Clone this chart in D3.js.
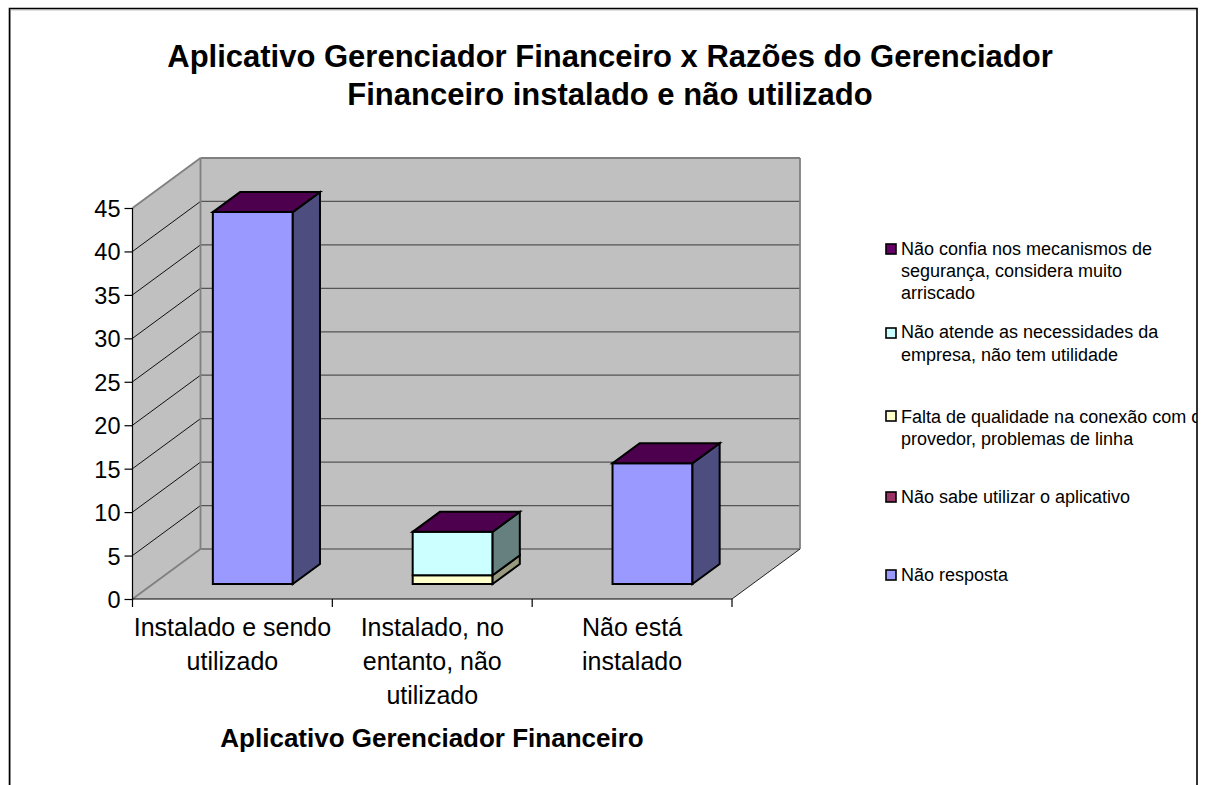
<!DOCTYPE html>
<html><head><meta charset="utf-8">
<script src="https://d3js.org/d3.v7.min.js"></script>
<style>html,body{margin:0;padding:0;background:#fff}svg{display:block}text{font-family:"Liberation Sans",Arial,sans-serif;fill:#000}</style>
</head><body><svg id="c" width="1205" height="785"></svg>
<script>
const categories = [["Instalado e sendo","utilizado"],["Instalado, no","entanto, não","utilizado"],["Não está","instalado"]];
const seriesNames = [["Não resposta"],["Não sabe utilizar o aplicativo"],["Falta de qualidade na conexão com o","provedor, problemas de linha"],["Não atende as necessidades da","empresa, não tem utilidade"],["Não confia nos mecanismos de","segurança, considera muito","arriscado"]];
const naoResposta = [42.8,0,13.9];
const naoSabe = [0,0,0];
const faltaQualidade = [0,1,0];
const naoAtende = [0,5,0];
const naoConfia = [0,0,0];
const yTicks = [0,5,10,15,20,25,30,35,40,45];
const front = ["#9999ff","#993366","#ffffcc","#ccffff","#660066"];
const side = ["#4d4d80","#4d1a33","#999980","#668080","#330033"];
const topc = ["#7373bf","#732650","#bfbf99","#99bfbf","#4d004d"];
const legendTextY = [575,497,[417,439],[332,355],[249,271,293]];
const legendSwatchY = [575,497,416,333,249];

const svg = d3.select("#c");
const x = d3.scaleBand().domain(d3.range(3)).range([132.5,732]);
const y = d3.scaleLinear().domain([0,45]).range([599,208]);
const dx = d3.scaleLinear().domain([0,1]).range([0,68]);
const dy = d3.scaleLinear().domain([0,1]).range([0,-50]);
const P = (px,v,d)=>[px+dx(d),y(v)+dy(d)];
const poly = pts=>pts.map(p=>p.join(",")).join(" ");
const L=x.range()[0],R=x.range()[1];

svg.append("clipPath").attr("id","fr").append("rect").attr("x",0).attr("y",0).attr("width",1197).attr("height",785);

// walls
svg.append("polygon").attr("points",poly([P(L,0,0),P(L,45,0),P(L,45,1),P(L,0,1)])).attr("fill","#c0c0c0");
svg.append("polygon").attr("points",poly([P(L,0,1),P(L,45,1),P(R,45,1),P(R,0,1)])).attr("fill","#c0c0c0");
svg.append("polygon").attr("points",poly([P(L,0,0),P(L,0,1),P(R,0,1),P(R,0,0)])).attr("fill","#c0c0c0");

// gridlines
const g = yTicks.filter(v=>v>0&&v<45);
svg.selectAll(".gb").data(g).join("line").attr("class","gb")
 .attr("x1",P(L,0,1)[0]).attr("x2",P(R,0,1)[0]).attr("y1",v=>P(L,v,1)[1]).attr("y2",v=>P(L,v,1)[1])
 .attr("stroke","#555").attr("stroke-width",1.3);
svg.selectAll(".gs").data(g).join("line").attr("class","gs")
 .attr("x1",P(L,0,0)[0]).attr("x2",P(L,0,1)[0]).attr("y1",v=>P(L,v,0)[1]).attr("y2",v=>P(L,v,1)[1])
 .attr("stroke","#111").attr("stroke-width",1);

// wall outlines
const grey=(a,b,w=1.8)=>svg.append("line").attr("x1",a[0]).attr("y1",a[1]).attr("x2",b[0]).attr("y2",b[1]).attr("stroke","#808080").attr("stroke-width",w);
grey(P(L,45,0),P(L,45,1));
grey(P(L,45,1),P(R,45,1));
grey(P(R,45,1),P(R,0,1));
grey(P(L,45,1),P(L,0,1));
grey(P(L,0,1),P(R,0,1));
grey(P(L,0,0),P(L,0,1));
svg.append("line").attr("x1",P(R,0,0)[0]).attr("y1",P(R,0,0)[1]).attr("x2",P(R,0,1)[0]).attr("y2",P(R,0,1)[1]).attr("stroke","#222").attr("stroke-width",1);

// bars
const stacks=[naoResposta,naoSabe,faltaQualidade,naoAtende,naoConfia];
const bw=x.bandwidth()*0.4;
const d0=0.3,d1=0.7;
const faces=[];
categories.forEach((c,i)=>{
  let acc=0;
  const xl=x(i)+(x.bandwidth()-bw)/2, xr=xl+bw;
  stacks.forEach((s,k)=>{
    const v0=acc,v1=acc+s[i];acc=v1;
    if(v1>v0){
      faces.push({pts:[P(xl,v0,d0),P(xr,v0,d0),P(xr,v1,d0),P(xl,v1,d0)],fill:front[k]});
      faces.push({pts:[P(xr,v0,d0),P(xr,v0,d1),P(xr,v1,d1),P(xr,v1,d0)],fill:side[k]});
    }
  });
  faces.push({pts:[P(xl,acc,d0),P(xr,acc,d0),P(xr,acc,d1),P(xl,acc,d1)],fill:topc[stacks.length-1]});
});
svg.selectAll(".f").data(faces).join("polygon").attr("class","f")
 .attr("points",d=>poly(d.pts)).attr("fill",d=>d.fill)
 .attr("stroke","#000").attr("stroke-width",2).attr("stroke-linejoin","miter");

// axes
const yAxis=d3.axisLeft(y).tickValues(yTicks).tickSize(8).tickFormat(d3.format("d"));
const ya=svg.append("g").attr("transform",`translate(${L},0)`).call(yAxis);
ya.selectAll("path,line").attr("stroke","#000").attr("stroke-width",1.2);
ya.select("path").attr("d",`M0,${y(45)}V${y(0)}`);
ya.selectAll("text").attr("font-size",23.5).attr("x",-12).attr("dy","0.36em").attr("font-family",null);
const xb=svg.append("g");
xb.append("line").attr("x1",L).attr("x2",R).attr("y1",y(0)).attr("y2",y(0)).attr("stroke","#000").attr("stroke-width",1.2);
xb.selectAll(".t").data(d3.range(4)).join("line").attr("class","t")
 .attr("x1",i=>L+i*x.step()).attr("x2",i=>L+i*x.step()).attr("y1",y(0)).attr("y2",y(0)+8)
 .attr("stroke","#000").attr("stroke-width",1.2);
categories.forEach((lines,i)=>{
  svg.append("text").attr("text-anchor","middle").attr("font-size",25)
   .selectAll("tspan").data(lines).join("tspan")
   .attr("x",x(i)+x.bandwidth()/2).attr("y",(d,j)=>636+j*34).text(d=>d);
});

// titles
svg.append("text").attr("text-anchor","middle").attr("font-size",31).attr("font-weight","bold")
 .selectAll("tspan").data(["Aplicativo Gerenciador Financeiro x Razões do Gerenciador","Financeiro instalado e não utilizado"]).join("tspan")
 .attr("x",610).attr("y",(d,j)=>67+j*38).text(d=>d);
svg.append("text").attr("text-anchor","middle").attr("font-size",26).attr("font-weight","bold")
 .attr("x",432).attr("y",747).text("Aplicativo Gerenciador Financeiro");

// legend
const lg=svg.append("g").attr("clip-path","url(#fr)");
seriesNames.forEach((lines,k)=>{
  lg.append("rect").attr("x",886).attr("y",legendSwatchY[k]-5).attr("width",10).attr("height",10)
   .attr("fill",front[k]).attr("stroke","#000").attr("stroke-width",1.6);
  const ys=[].concat(legendTextY[k]);
  lg.append("text").attr("font-size",18)
   .selectAll("tspan").data(lines).join("tspan")
   .attr("x",901).attr("y",(d,j)=>ys[j]+6).text(d=>d);
});

// frame
svg.append("path").attr("d","M10.5,785V10H1196").attr("fill","none").attr("stroke","#c0c0c0").attr("stroke-width",1);
svg.append("path").attr("d","M9.5,785V8.5H1197V785").attr("fill","none").attr("stroke","#000").attr("stroke-width",1.6);
</script></body></html>
